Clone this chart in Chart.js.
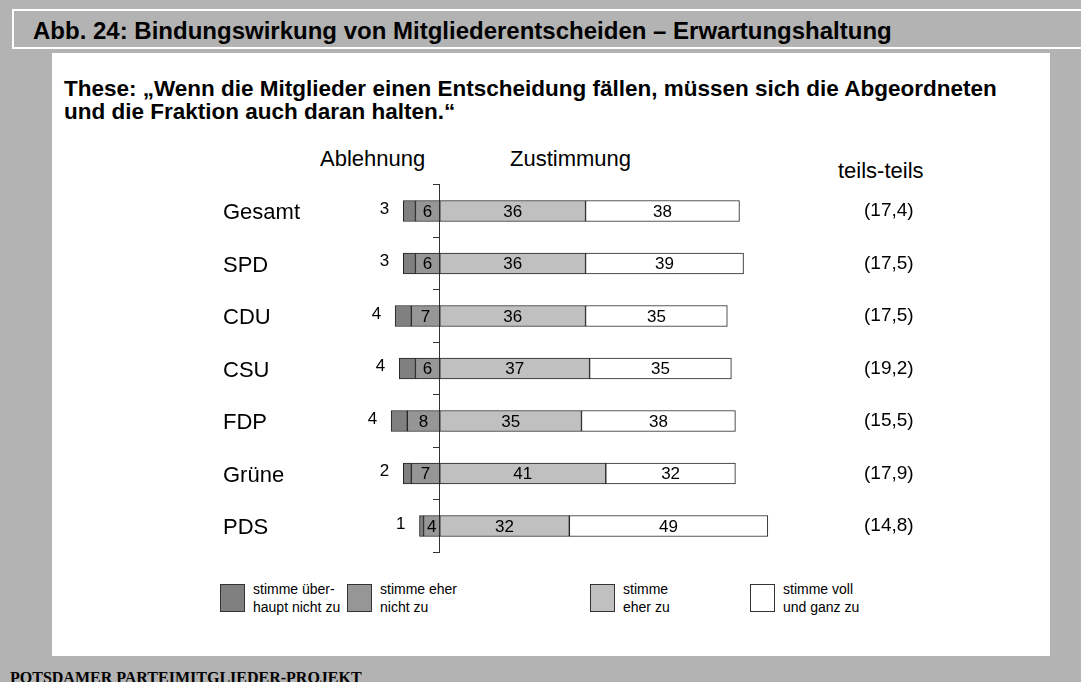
<!DOCTYPE html>
<html lang="de">
<head>
<meta charset="utf-8">
<title>Abb. 24: Bindungswirkung von Mitgliederentscheiden</title>
<script src="https://cdn.jsdelivr.net/npm/chart.js@4.4.0/dist/chart.umd.min.js"></script>
<style>
  html, body { margin: 0; padding: 0; }
  body {
    width: 1081px; height: 682px; overflow: hidden; position: relative;
    background: #b3b3b3; color: #000;
    font-family: "Liberation Sans", Arial, sans-serif;
  }
  .abs { position: absolute; white-space: nowrap; }
  #hdr { left: 12px; top: 9px; width: 1100px; height: 36px; border: 2px solid #fff; }
  #title { left: 33px; top: 19px; font-size: 24px; font-weight: bold; line-height: 24px; }
  #panel { left: 52px; top: 53px; width: 998px; height: 603px; background: #fff; }
  #thesis { left: 64px; top: 77px; font-size: 22.5px; font-weight: bold; line-height: 23px; }
  .head { font-size: 22px; line-height: 22px; }
  .leg-box { width: 23px; height: 26px; border: 1px solid #333; top: 584px; }
  .leg-txt { font-size: 14px; line-height: 18px; top: 580px; }
  #footer {
    left: 10px; top: 670px; font-size: 16px; line-height: 16px; font-weight: bold;
    font-family: "Liberation Serif", "Times New Roman", serif;
  }
  #chart { position: absolute; left: 0; top: 0; }
</style>
</head>
<body>
<div id="hdr" class="abs"></div>
<div id="title" class="abs">Abb. 24: Bindungswirkung von Mitgliederentscheiden – Erwartungshaltung</div>
<div id="panel" class="abs"></div>
<div id="thesis" class="abs">These: „Wenn die Mitglieder einen Entscheidung fällen, müssen sich die Abgeordneten<br>und die Fraktion auch daran halten.“</div>
<div class="abs head" style="left:320px; top:148px;">Ablehnung</div>
<div class="abs head" style="left:510px; top:148px;">Zustimmung</div>
<div class="abs head" style="left:838px; top:160px;">teils-teils</div>
<div id="legend"></div>
<div id="footer" class="abs">POTSDAMER PARTEIMITGLIEDER-PROJEKT</div>
<canvas id="chart" width="1081" height="682"></canvas>

<script>
// Data (percent)
const categories = ['Gesamt', 'SPD', 'CDU', 'CSU', 'FDP', 'Grüne', 'PDS'];
const stronglyDisagree = [3, 3, 4, 4, 4, 2, 1];
const disagree = [6, 6, 7, 6, 8, 7, 4];
const agree = [36, 36, 36, 37, 35, 41, 32];
const stronglyAgree = [38, 39, 35, 35, 38, 32, 49];
const neutral = [17.4, 17.5, 17.5, 19.2, 15.5, 17.9, 14.8];

const seriesNames = [
    'stimme über-\nhaupt nicht zu',
    'stimme eher\nnicht zu',
    'stimme\neher zu',
    'stimme voll\nund ganz zu'
];
const seriesColors = ['#808080', '#969696', '#c0c0c0', '#ffffff'];

const FONT = '"Liberation Sans", Arial, sans-serif';
const legendX = [220, 347, 590, 750];

// Build legend below the chart
function buildLegend() {
    const box = document.getElementById('legend');
    seriesNames.forEach((name, i) => {
        const sw = document.createElement('div');
        sw.className = 'abs leg-box';
        sw.style.left = legendX[i] + 'px';
        sw.style.background = seriesColors[i];
        box.appendChild(sw);
        const txt = document.createElement('div');
        txt.className = 'abs leg-txt';
        txt.style.left = (legendX[i] + 33) + 'px';
        txt.innerHTML = name.replace('\n', '<br>');
        box.appendChild(txt);
    });
}

// Category names, teils-teils column and segment values
const rowLabels = {
    id: 'rowLabels',
    afterDatasetsDraw(chart) {
        const ctx = chart.ctx;
        const yScale = chart.scales.y;
        ctx.save();
        ctx.fillStyle = '#000';
        ctx.textBaseline = 'middle';
        categories.forEach((name, i) => {
            const y = yScale.getPixelForValue(i);
            ctx.textAlign = 'left';
            ctx.font = '22px ' + FONT;
            ctx.fillText(name, 223, y + 2);
            ctx.font = '19px ' + FONT;
            ctx.fillText('(' + neutral[i].toFixed(1).replace('.', ',') + ')', 864, y);
        });
        ctx.font = '17px ' + FONT;
        chart.data.datasets.forEach((ds, d) => {
            const meta = chart.getDatasetMeta(d);
            meta.data.forEach((bar, i) => {
                const p = bar.getProps(['x', 'base', 'y'], true);
                const v = Math.abs(ds.data[i]);
                if (ds.labelOutside) {
                    ctx.textAlign = 'right';
                    ctx.fillText(v, Math.min(p.x, p.base) - 14, p.y - 2);
                } else {
                    ctx.textAlign = 'center';
                    ctx.fillText(v, (p.x + p.base) / 2, p.y + 1);
                }
            });
        });
        ctx.restore();
    }
};

function createChart() {
    const ctx = document.getElementById('chart').getContext('2d');
    const common = { borderColor: '#222', borderWidth: 1, borderSkipped: false, barThickness: 21 };
    new Chart(ctx, {
        type: 'bar',
        data: {
            labels: categories,
            datasets: [
                // stacked outward from the axis: "eher nicht" first, then "überhaupt nicht"
                { label: seriesNames[1], data: disagree.map(v => -v), backgroundColor: seriesColors[1], ...common },
                { label: seriesNames[0], data: stronglyDisagree.map(v => -v), backgroundColor: seriesColors[0], labelOutside: true, ...common },
                { label: seriesNames[2], data: agree, backgroundColor: seriesColors[2], ...common },
                { label: seriesNames[3], data: stronglyAgree, backgroundColor: seriesColors[3], ...common }
            ]
        },
        options: {
            indexAxis: 'y',
            responsive: false,
            animation: false,
            layout: { padding: { left: 379, right: 297, top: 184.75, bottom: 129.75 } },
            scales: {
                x: { stacked: true, min: -15, max: 85, display: false },
                y: {
                    stacked: true,
                    offset: true,
                    position: { x: 0 },
                    grid: { offset: true, drawOnChartArea: false, drawTicks: true, tickLength: 6, color: '#333' },
                    border: { display: true, color: '#333', width: 1 },
                    ticks: { display: false }
                }
            },
            plugins: {
                legend: { display: false },
                tooltip: { enabled: false }
            }
        },
        plugins: [rowLabels]
    });
}

document.addEventListener('DOMContentLoaded', () => {
    buildLegend();
    createChart();
});
</script>
</body>
</html>
